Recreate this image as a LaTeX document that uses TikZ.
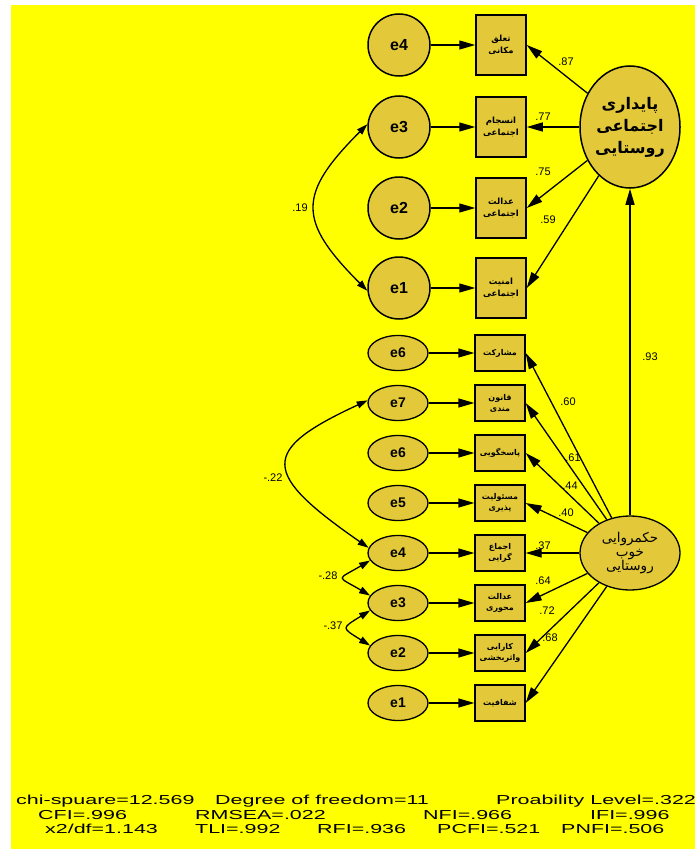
\documentclass[tikz,border=0pt]{standalone}
\usepackage{fontspec}
\setmainfont{Liberation Sans}
\newfontfamily\arabicfont[Script=Arabic]{DejaVu Sans}
\usepackage{graphicx}
\usetikzlibrary{calc}
\usetikzlibrary{arrows.meta}
\usetikzlibrary{shapes.geometric}
\usetikzlibrary{positioning}
\TeXXeTstate=1
\newcommand{\fatxt}[1]{\beginR #1\endR}
\newcommand{\stretched}[1]{\scalebox{1.65}[1]{#1}}
\definecolor{bgyellow}{RGB}{255,255,0}
\definecolor{nodegold}{RGB}{227,201,58}

\begin{document}
\begin{tikzpicture}[x=1pt, y=-1pt,
      >={Triangle[length=16pt,width=9pt]},
      var/.style={draw, line width=1.5pt, fill=nodegold, inner sep=0pt},
          error/.style={var, circle, minimum size=62pt, font=\bfseries\fontsize{16}{18}\selectfont},
          small error/.style={var, ellipse, line width=1.3pt, minimum width=60pt, minimum height=35pt, font=\bfseries\fontsize{14}{16}\selectfont},
          observed/.style={var, rectangle, minimum width=50pt, minimum height=60pt, align=center, font=\arabicfont\bfseries\fontsize{8.5}{12}\selectfont},
          small observed/.style={observed, line width=1.3pt, minimum height=36pt, font=\arabicfont\bfseries\fontsize{8}{11}\selectfont},
          latent/.style={var, ellipse, minimum width=100pt, align=center},
      link/.style={->, line width=1.3pt},
      covar/.style={<->, line width=1.3pt, >={Triangle[length=11pt,width=7pt]}},
      weight/.style={inner sep=1pt, font=\fontsize{11}{12}\selectfont},
      stat/.style={anchor=west, inner sep=0pt, font=\fontsize{13}{14}\selectfont},
      ]
        \fill[white] (0,0) rectangle (695,864);
        \fill[bgyellow] (11,5) rectangle (695,849);
        \useasboundingbox (0,0) rectangle (695,864);

        % social sustainability block
        \node[error] (e-1) at (399, 45) {e4};
        \node[error] (e-2) at (399,127) {e3};
        \node[error] (e-3) at (399,208) {e2};
        \node[error] (e-4) at (399,288) {e1};

        \node[observed] (x-1) at (501, 45) {\fatxt{تعلق}\\\fatxt{مکانی}};
        \node[observed] (x-2) at (501,127) {\fatxt{انسجام}\\\fatxt{اجتماعی}};
        \node[observed] (x-3) at (501,208) {\fatxt{عدالت}\\\fatxt{اجتماعی}};
        \node[observed] (x-4) at (501,288) {\fatxt{امنیت}\\\fatxt{اجتماعی}};

        \node[latent, minimum height=122pt, font=\arabicfont\bfseries\fontsize{16}{22}\selectfont]
          (lat-1) at (630,127) {\fatxt{پایداری}\\\fatxt{اجتماعی}\\\fatxt{روستایی}};

        \foreach \i in {1,...,4}
          \draw[link] (e-\i) edge (x-\i);

        \foreach \i/\w/\px/\py in {1/.87/566/62, 2/.77/543/117, 3/.75/543/172, 4/.59/548/220}
          {
            \draw[link] (lat-1) edge (x-\i.east);
            \node[weight] (w-\i) at (\px,\py) {\w};
          }

        \draw[covar] (e-2.175) .. controls ($(e-2.175)+(-70,70)$) and ($(e-4.185)+(-70,-70)$) .. (e-4.185);
        \node[weight] (c-1) at (300,208) {.19};

        % good governance block
        \node[small error] (f-1) at (398,353) {e6};
        \node[small error] (f-2) at (398,403) {e7};
        \node[small error] (f-3) at (398,453) {e6};
        \node[small error] (f-4) at (398,503) {e5};
        \node[small error] (f-5) at (398,553) {e4};
        \node[small error] (f-6) at (398,603) {e3};
        \node[small error] (f-7) at (398,653) {e2};
        \node[small error] (f-8) at (398,703) {e1};

        \node[small observed] (y-1) at (500,353) {\fatxt{مشارکت}};
        \node[small observed] (y-2) at (500,403) {\fatxt{قانون}\\\fatxt{مندی}};
        \node[small observed] (y-3) at (500,453) {\fatxt{پاسخگویی}};
        \node[small observed] (y-4) at (500,503) {\fatxt{مسئولیت}\\\fatxt{پذیری}};
        \node[small observed] (y-5) at (500,553) {\fatxt{اجماع}\\\fatxt{گرایی}};
        \node[small observed] (y-6) at (500,603) {\fatxt{عدالت}\\\fatxt{محوری}};
        \node[small observed] (y-7) at (500,653) {\fatxt{کارایی}\\\fatxt{واثربخشی}};
        \node[small observed] (y-8) at (500,703) {\fatxt{شفافیت}};

        \node[latent, line width=1.3pt, minimum height=74pt, font=\arabicfont\fontsize{13.5}{14}\selectfont]
          (lat-2) at (630,553) {\fatxt{حکمروایی}\\\fatxt{خوب}\\\fatxt{روستایی}};

        \foreach \i in {1,...,8}
          \draw[link] (f-\i) edge (y-\i);

        \foreach \i/\w/\px/\py in {1/.60/568/402, 2/.61/573/458, 3/.44/570/486, 4/.40/566/513,
                                   5/.37/543/546, 6/.64/543/581, 7/.72/547/611, 8/.68/550/638}
          {
            \draw[link] (lat-2) edge (y-\i.east);
            \node[weight] (v-\i) at (\px,\py) {\w};
          }

        \draw[link] (lat-2) edge (lat-1);
        \node[weight] (w-5) at (650,357) {.93};

        \draw[covar] (f-2.175) .. controls ($(f-2.175)+(-108,50)$) and ($(f-5.170)+(-108,-75)$) .. (f-5.170);
        \draw[covar] (f-5.195) .. controls ($(f-5.195)+(-34,20)$) and ($(f-6.165)+(-34,-20)$) .. (f-6.165);
        \draw[covar] (f-6.195) .. controls ($(f-6.195)+(-29,18)$) and ($(f-7.165)+(-29,-18)$) .. (f-7.165);
        \node[weight] (c-2) at (273,478) {-.22};
        \node[weight] (c-3) at (328,576) {-.28};
        \node[weight] (c-4) at (333,626) {-.37};

        % fit indices
        \node[stat] (s-1)  at (16,801)  {\stretched{chi-spuare=12.569}};
        \node[stat] (s-2)  at (215,801) {\stretched{Degree of freedom=11}};
        \node[stat] (s-3)  at (496,801) {\stretched{Proability Level=.322}};
        \node[stat] (s-4)  at (38,815)  {\stretched{CFI=.996}};
        \node[stat] (s-5)  at (195,815) {\stretched{RMSEA=.022}};
        \node[stat] (s-6)  at (423,815) {\stretched{NFI=.966}};
        \node[stat] (s-7)  at (590,815) {\stretched{IFI=.996}};
        \node[stat] (s-8)  at (45,829)  {\stretched{x2/df=1.143}};
        \node[stat] (s-9)  at (195,829) {\stretched{TLI=.992}};
        \node[stat] (s-10) at (317,829) {\stretched{RFI=.936}};
        \node[stat] (s-11) at (437,829) {\stretched{PCFI=.521}};
        \node[stat] (s-12) at (561,829) {\stretched{PNFI=.506}};

\end{tikzpicture}
\end{document}
